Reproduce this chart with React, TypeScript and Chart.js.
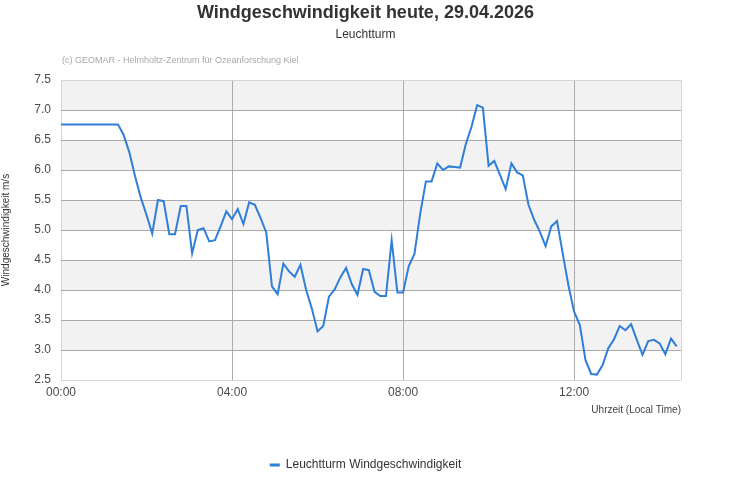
import { useEffect, useRef } from "react";
import Chart from "chart.js/auto";

const titleText = "Windgeschwindigkeit heute, 29.04.2026";
const subtitleText = "Leuchtturm";
const creditText = "(c) GEOMAR - Helmholtz-Zentrum für Ozeanforschung Kiel";
const seriesName = "Leuchtturm Windgeschwindigkeit";
const yAxisTitle = "Windgeschwindigkeit m/s";
const xAxisTitle = "Uhrzeit (Local Time)";

// reading at midnight, then a gap, then readings every 8 minutes from 01:20
const firstMinute = 0;
const firstSpeed = 6.76;
const startMinute = 80;
const stepMinutes = 8;
const speeds = [
  6.76, 6.58, 6.29, 5.89, 5.54, 5.25, 4.94, 5.5, 5.48, 4.93,
  4.93, 5.4, 5.4, 4.61, 5.0, 5.03, 4.81, 4.83, 5.06, 5.31,
  5.18, 5.35, 5.1, 5.46, 5.42, 5.2, 4.96, 4.06, 3.93, 4.44,
  4.31, 4.22, 4.42, 4.0, 3.69, 3.31, 3.4, 3.89, 4.01, 4.21,
  4.37, 4.1, 3.92, 4.35, 4.33, 3.97, 3.9, 3.9, 4.83, 3.96,
  3.96, 4.4, 4.6, 5.27, 5.81, 5.81, 6.11, 6.0, 6.06, 6.05,
  6.04, 6.43, 6.72, 7.08, 7.04, 6.07, 6.15, 5.92, 5.68, 6.11,
  5.96, 5.91, 5.42, 5.17, 4.97, 4.73, 5.06, 5.15, 4.61, 4.08,
  3.64, 3.42, 2.83, 2.6, 2.59, 2.75, 3.03, 3.18, 3.4, 3.33,
  3.43, 3.17, 2.92, 3.15, 3.17, 3.11, 2.93, 3.19, 3.06,
];

const xTickMinutes = [0, 240, 480, 720];
const xMaxMinute = 870;
const yMin = 2.5;
const yMax = 7.5;
const yStep = 0.5;

const lineColor = "#2f7ed8";
const gridColor = "#ababab";
const edgeColor = "#d6d6d6";
const bandColor = "#f2f2f2";

const fmtTime = (m: number) => {
  const h = Math.floor(m / 60);
  const mm = m % 60;
  return `${String(h).padStart(2, "0")}:${String(mm).padStart(2, "0")}`;
};

const bandsPlugin = {
  id: "bands",
  beforeDraw(chart: any) {
    const { ctx, chartArea, scales } = chart;
    const y = scales.y;
    ctx.save();
    ctx.fillStyle = "#ffffff";
    ctx.fillRect(0, 0, chart.width, chart.height);
    const ticks = y.ticks;
    for (let i = 0; i < ticks.length - 1; i++) {
      if (i % 2 === 0) continue;
      const top = y.getPixelForValue(ticks[i + 1].value);
      const bottom = y.getPixelForValue(ticks[i].value);
      ctx.fillStyle = bandColor;
      ctx.fillRect(chartArea.left, top, chartArea.right - chartArea.left, bottom - top);
    }
    ctx.restore();
  },
  afterDraw(chart: any) {
    const { ctx, chartArea } = chart;
    ctx.save();
    ctx.strokeStyle = edgeColor;
    ctx.lineWidth = 1;
    ctx.beginPath();
    ctx.moveTo(Math.round(chartArea.right) + 0.5, chartArea.top);
    ctx.lineTo(Math.round(chartArea.right) + 0.5, chartArea.bottom);
    ctx.stroke();
    ctx.fillStyle = "#a8a8a8";
    ctx.font = "9px 'Liberation Sans', Arial, sans-serif";
    ctx.textBaseline = "middle";
    ctx.textAlign = "left";
    ctx.fillText(creditText, chartArea.left + 1, chartArea.top - 19);
    ctx.restore();
  },
};

const App = () => {
  const chartRef = useRef<HTMLCanvasElement>(null);

  useEffect(() => {
    const ctx = chartRef.current?.getContext("2d");
    if (!ctx) return;

    Chart.defaults.font.family = "'Liberation Sans', Arial, sans-serif";

    const points = [
      { x: firstMinute, y: firstSpeed },
      ...speeds.map((v, i) => ({ x: startMinute + i * stepMinutes, y: v })),
    ];

    const chart = new Chart(ctx, {
      type: "line",
      data: {
        datasets: [
          {
            label: seriesName,
            data: points,
            borderColor: lineColor,
            backgroundColor: lineColor,
            borderWidth: 2,
            pointRadius: 0,
            tension: 0,
          },
        ],
      },
      options: {
        animation: false,
        responsive: false,
        layout: { padding: { top: 0, right: 0, bottom: 19, left: 0 } },
        scales: {
          x: {
            type: "linear",
            min: 0,
            max: xMaxMinute,
            afterBuildTicks: (scale: any) => {
              scale.ticks = xTickMinutes.map((v) => ({ value: v }));
            },
            ticks: {
              callback: (v: any) => fmtTime(Number(v)),
              font: { size: 12 },
              color: "#4a4a4a",
              padding: 5,
              maxRotation: 0,
            },
            grid: {
              color: (c: any) => (c.tick && c.tick.value === 0 ? edgeColor : gridColor),
              drawTicks: false,
            },
            border: { display: false },
            title: {
              display: true,
              text: xAxisTitle,
              align: "end",
              font: { size: 10 },
              color: "#444",
              padding: { top: 0, bottom: 32.6 },
            },
          },
          y: {
            min: yMin,
            max: yMax,
            afterFit: (scale: any) => {
              scale.width = 61;
            },
            ticks: {
              stepSize: yStep,
              callback: (v: any) => Number(v).toFixed(1),
              font: { size: 12 },
              color: "#4a4a4a",
              padding: 10,
            },
            grid: {
              color: (c: any) =>
                c.tick && (c.tick.value === yMin || c.tick.value === yMax) ? edgeColor : gridColor,
              drawTicks: false,
            },
            border: { display: false },
            title: {
              display: true,
              text: yAxisTitle,
              font: { size: 10 },
              color: "#333",
              padding: { top: 0, bottom: 0 },
            },
          },
          // empty margin on the right of the plot
          yRight: {
            position: "right",
            min: yMin,
            max: yMax,
            afterFit: (scale: any) => {
              scale.width = 50;
            },
            ticks: { display: false },
            grid: { display: false },
            border: { display: false },
          },
        },
        plugins: {
          title: {
            display: true,
            text: titleText,
            font: { size: 18, weight: "bold" },
            color: "#333",
            padding: { top: 2, bottom: 4 },
          },
          subtitle: {
            display: true,
            text: subtitleText,
            font: { size: 12 },
            color: "#333",
            padding: { top: 0, bottom: 38 },
          },
          legend: {
            position: "bottom",
            labels: {
              font: { size: 12 },
              color: "#333",
              boxWidth: 10,
              boxHeight: 3,
              generateLabels: (c: any) =>
                Chart.defaults.plugins.legend.labels
                  .generateLabels(c)
                  .map((l: any) => ({ ...l, lineWidth: 0, fillStyle: lineColor })),
            },
          },
          tooltip: { enabled: false },
        },
      },
      plugins: [bandsPlugin],
    });

    return () => {
      chart.destroy();
    };
  }, []);

  return (
    <div style={{ position: "absolute", left: 0, top: 0, width: 731, height: 500 }}>
      <canvas ref={chartRef} width={731} height={500} />
    </div>
  );
};

export default App;
